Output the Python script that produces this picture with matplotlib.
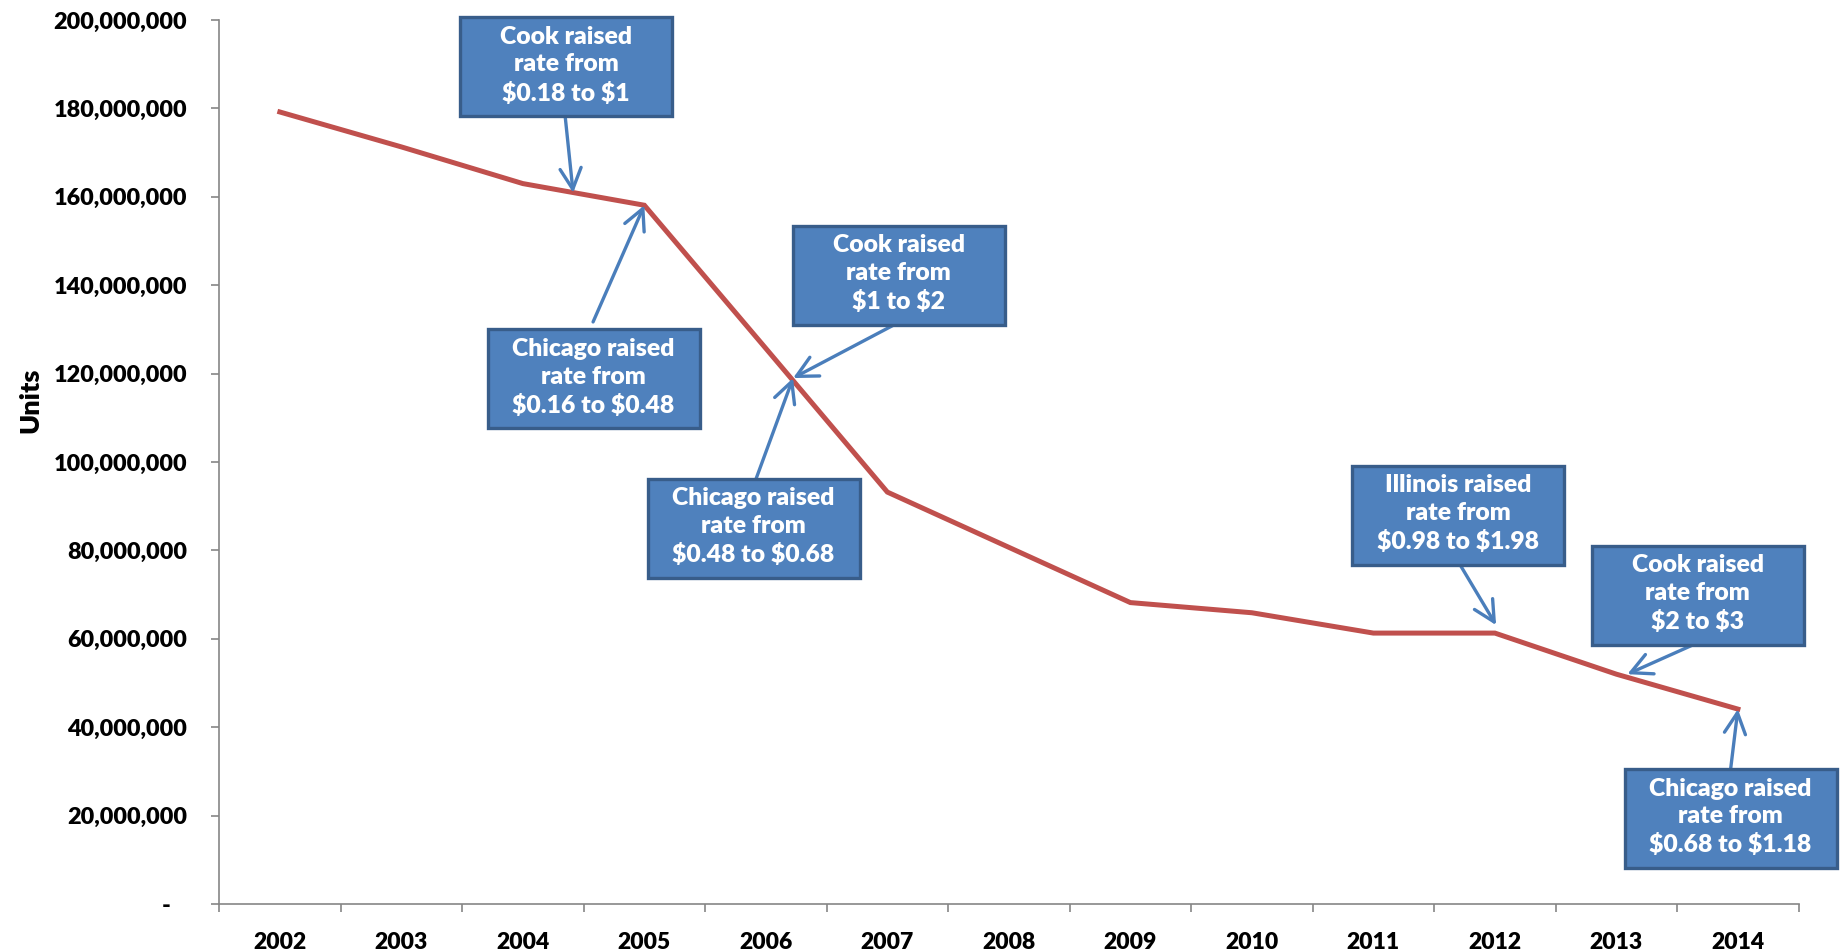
import numpy as np
import matplotlib.pyplot as plt
from matplotlib.patches import Rectangle
from matplotlib.ticker import FuncFormatter, FixedLocator

plt.rcParams['font.family'] = ['Lato', 'DejaVu Sans']
plt.rcParams['font.weight'] = 'heavy'

years = ['2002', '2003', '2004', '2005', '2006', '2007', '2008',
         '2009', '2010', '2011', '2012', '2013', '2014']
units = [179.2e6, 171.3e6, 163.0e6, 158.1e6, 125.7e6, 93.2e6, 80.7e6,
         68.2e6, 65.9e6, 61.3e6, 61.3e6, 52.0e6, 44.1e6]

# callouts: text, box centre, arrow tail, arrow tip (x in year index, y in units)
notes = [
    ('Cook raised\nrate from\n\\$0.18 to \\$1', (2.356, 189.4e6), (2.348, 178.3e6), (2.414, 160.9e6)),
    ('Chicago raised\nrate from\n\\$0.16 to \\$0.48', (2.582, 118.8e6), (2.578, 131.7e6), (3.0, 158.1e6)),
    ('Cook raised\nrate from\n\\$1 to \\$2', (5.093, 142.3e6), (5.08, 131.4e6), (4.224, 119.0e6)),
    ('Chicago raised\nrate from\n\\$0.48 to \\$0.68', (3.899, 85.0e6), (3.91, 95.5e6), (4.224, 119.0e6)),
    ('Illinois raised\nrate from\n\\$0.98 to \\$1.98', (9.70, 87.9e6), (9.706, 77.1e6), (10.01, 63.1e6)),
    ('Cook raised\nrate from\n\\$2 to \\$3', (11.67, 69.9e6), (11.66, 59.0e6), (11.09, 52.0e6)),
    ('Chicago raised\nrate from\n\\$0.68 to \\$1.18', (11.94, 19.3e6), (11.94, 30.5e6), (12.0, 44.1e6)),
]

box_w, box_h = 1.745, 22.4e6
axis_grey = '#868686'

fig = plt.figure(figsize=(18.41, 9.5), dpi=100)
ax = fig.add_axes([0.119, 0.0484, 0.858, 0.9305])

x = np.arange(len(years))
ax.plot(x, units, color='#C0504D', lw=3.6, solid_joinstyle='miter', zorder=3)

for text, (cx, cy), tail, tip in notes:
    ax.annotate('', xy=tip, xytext=tail,
                arrowprops=dict(arrowstyle='->,head_length=0.75,head_width=0.38',
                                color='#4A7EBB', lw=2.4, shrinkA=0, shrinkB=0,
                                mutation_scale=20),
                zorder=4, annotation_clip=False)
    ax.add_patch(Rectangle((cx - box_w / 2, cy - box_h / 2), box_w, box_h,
                           facecolor='#4F81BD', edgecolor='#385D8A', lw=2.4,
                           zorder=5, clip_on=False))
    ax.text(cx, cy + 0.4e6, text, ha='center', va='center', color='white',
            fontsize=17.8, fontweight='heavy', linespacing=1.32, zorder=6)

ax.set_xlim(-0.5, len(years) - 0.5)
ax.set_ylim(0, 200e6)

ax.set_xticks(x)
ax.set_xticklabels(years)
ax.xaxis.set_minor_locator(FixedLocator(np.arange(-0.5, len(years), 1.0)))
ax.tick_params(axis='x', which='major', length=0, pad=20, labelsize=16.5)
ax.tick_params(axis='x', which='minor', length=6, width=1.2, color=axis_grey)

ax.set_yticks(np.arange(0, 200e6 + 1, 20e6))
ax.yaxis.set_major_formatter(FuncFormatter(
    lambda v, pos: '-   ' if v == 0 else f'{int(v):,}'))
ax.tick_params(axis='y', length=6, width=1.2, color=axis_grey, pad=17, labelsize=16.8)

for side in ['top', 'right']:
    ax.spines[side].set_visible(False)
for side in ['left', 'bottom']:
    ax.spines[side].set_color(axis_grey)
    ax.spines[side].set_linewidth(1.2)

ax.set_ylabel('Units', fontsize=19.5, fontweight='heavy')
ax.yaxis.set_label_coords(-0.112, 0.57)

fig.savefig('out.png', dpi=100)
